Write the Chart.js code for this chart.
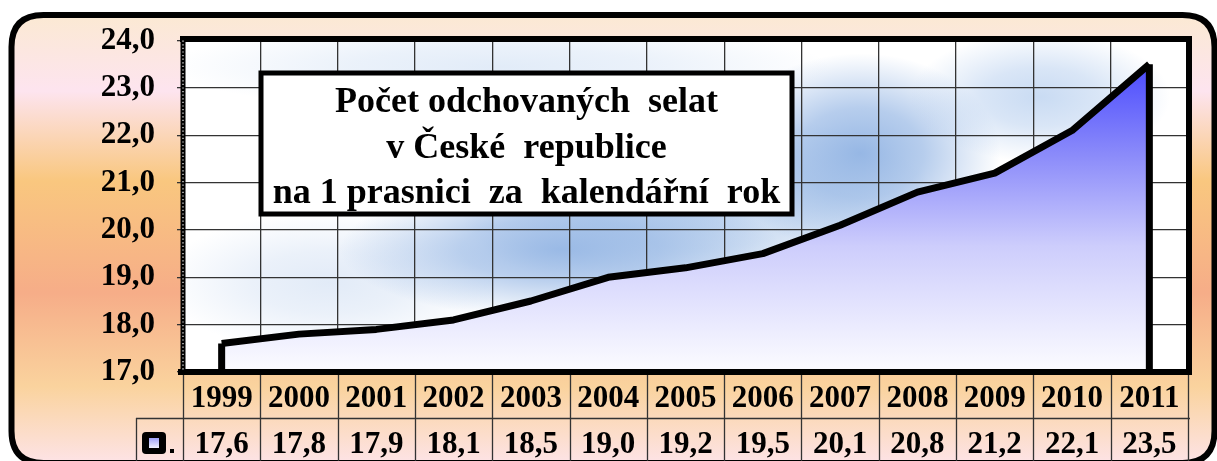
<!DOCTYPE html>
<html>
<head>
<meta charset="utf-8">
<script src="https://cdn.jsdelivr.net/npm/chart.js"></script>
<style>
  html, body { margin: 0; padding: 0; background: #fff; }
  #wrap { width: 1217px; height: 461px; }
</style>
</head>
<body>
<div id="wrap"><canvas id="chart" width="1217" height="461"></canvas></div>
<script>
const years = ['1999', '2000', '2001', '2002', '2003', '2004', '2005', '2006', '2007', '2008', '2009', '2010', '2011'];
const piglets = [17.6, 17.8, 17.9, 18.1, 18.5, 19.0, 19.2, 19.5, 20.1, 20.8, 21.2, 22.1, 23.5];
const yMin = 17;
const yMax = 24;
const yStep = 1;
const titleLines = ['Počet odchovaných  selat', 'v České  republice', 'na 1 prasnici  za  kalendářní  rok'];

const FONT = "'Liberation Serif', 'Times New Roman', serif";

function czNum(v) {
    return Number(v).toFixed(1).replace('.', ',');
}

function roundRectPath(ctx, x, y, w, h, r) {
    ctx.beginPath();
    ctx.moveTo(x + r, y);
    ctx.lineTo(x + w - r, y);
    ctx.quadraticCurveTo(x + w, y, x + w, y + r);
    ctx.lineTo(x + w, y + h - r);
    ctx.quadraticCurveTo(x + w, y + h, x + w - r, y + h);
    ctx.lineTo(x + r, y + h);
    ctx.quadraticCurveTo(x, y + h, x, y + h - r);
    ctx.lineTo(x, y + r);
    ctx.quadraticCurveTo(x, y, x + r, y);
    ctx.closePath();
}

// panel background, white plot area with the blue clouds
const backdrop = {
    id: 'backdrop',
    beforeDraw(chart) {
        const { ctx, chartArea: a } = chart;
        ctx.save();
        const g = ctx.createLinearGradient(0, 15, 0, 463);
        g.addColorStop(0.0, '#fbe9d3');
        g.addColorStop(0.17, '#fde4ef');
        g.addColorStop(0.37, '#f9c77f');
        g.addColorStop(0.62, '#f6ad88');
        g.addColorStop(0.83, '#fad39e');
        g.addColorStop(1.0, '#fde3e6');
        roundRectPath(ctx, 11.5, 15, 1203, 448, 32);
        ctx.fillStyle = g;
        ctx.fill();
        ctx.lineWidth = 6;
        ctx.strokeStyle = '#000';
        ctx.stroke();

        ctx.fillStyle = '#fff';
        ctx.fillRect(a.left, a.top, a.width, a.height);
        ctx.beginPath();
        ctx.rect(a.left, a.top, a.width, a.height);
        ctx.clip();
        // [centre x, centre y as part of the plot, radius x, radius y, rgb, alpha]
        const clouds = [
            [0.315, 0.08, 330, 45, '190,212,240', 0.45],
            [0.146, 0.73, 170, 70, '190,210,238', 0.45],
            [0.514, 0.5, 240, 95, '150,184,228', 0.6],
            [0.375, 0.63, 220, 70, '140,176,226', 0.85],
            [0.674, 0.34, 140, 100, '140,176,226', 0.9],
            [0.853, 0.17, 130, 65, '165,195,235', 0.6]
        ];
        clouds.forEach(([fx, fy, rx, ry, rgb, al]) => {
            const cx = a.left + fx * a.width;
            const cy = a.top + fy * a.height;
            ctx.save();
            ctx.translate(cx, cy);
            ctx.scale(rx / ry, 1);
            const rg = ctx.createRadialGradient(0, 0, 0, 0, 0, ry);
            rg.addColorStop(0, `rgba(${rgb},${al})`);
            rg.addColorStop(0.45, `rgba(${rgb},${al * 0.7})`);
            rg.addColorStop(1, `rgba(${rgb},0)`);
            ctx.fillStyle = rg;
            ctx.beginPath();
            ctx.arc(0, 0, ry, 0, Math.PI * 2);
            ctx.fill();
            ctx.restore();
        });
        ctx.restore();
    }
};

// end drops of the area, plot frame and title box
const frame = {
    id: 'frame',
    afterDatasetsDraw(chart) {
        const { ctx, chartArea: a } = chart;
        const pts = chart.getDatasetMeta(0).data;
        const first = pts[0];
        const last = pts[pts.length - 1];
        ctx.save();
        ctx.strokeStyle = '#000';
        ctx.lineWidth = 7;
        ctx.lineCap = 'butt';
        ctx.beginPath();
        ctx.moveTo(first.x, a.bottom);
        ctx.lineTo(first.x, first.y);
        ctx.moveTo(last.x, last.y);
        ctx.lineTo(last.x, a.bottom);
        ctx.stroke();

        ctx.lineWidth = 6;
        ctx.lineCap = 'square';
        ctx.beginPath();
        ctx.moveTo(a.left, a.top - 1.5);
        ctx.lineTo(a.right + 1, a.top - 1.5);
        ctx.lineTo(a.right + 1, a.bottom);
        ctx.moveTo(a.left - 2, a.bottom);
        ctx.lineTo(a.right + 1, a.bottom);
        ctx.stroke();

        ctx.lineCap = 'butt';
        ctx.lineWidth = 5;
        ctx.beginPath();
        ctx.moveTo(a.left, a.top - 4);
        ctx.lineTo(a.left, a.bottom + 2);
        ctx.stroke();
        ctx.strokeStyle = '#fff';
        ctx.lineWidth = 1.2;
        ctx.setLineDash([1.2, 2.4]);
        ctx.beginPath();
        ctx.moveTo(a.left, a.top);
        ctx.lineTo(a.left, a.bottom - 2);
        ctx.stroke();
        ctx.setLineDash([]);

        // title box
        const bx = 261, by = 73, bw = 531, bh = 141;
        ctx.fillStyle = '#fff';
        ctx.fillRect(bx, by, bw, bh);
        ctx.strokeStyle = '#000';
        ctx.lineWidth = 5;
        ctx.strokeRect(bx, by, bw, bh);
        ctx.fillStyle = '#000';
        ctx.font = 'bold 36px ' + FONT;
        ctx.textAlign = 'center';
        ctx.textBaseline = 'middle';
        titleLines.forEach((t, i) => {
            ctx.fillText(t, bx + bw / 2, by + 30 + i * 45.5);
        });
        ctx.restore();
    }
};

// data table under the plot
const dataTable = {
    id: 'dataTable',
    afterDraw(chart) {
        const { ctx, chartArea: a } = chart;
        const xs = chart.scales.x;
        const half = (xs.getPixelForValue(1) - xs.getPixelForValue(0)) / 2;
        const top = a.bottom + 3;
        const mid = a.bottom + 46;
        const bottom = chart.height;
        const keyLeft = a.left - 47;
        ctx.save();
        ctx.strokeStyle = '#333';
        ctx.lineWidth = 1.3;
        ctx.beginPath();
        for (let i = 0; i <= years.length; i++) {
            const x = Math.round(xs.getPixelForValue(i) - half) + 0.5;
            ctx.moveTo(x, top);
            ctx.lineTo(x, bottom);
        }
        ctx.moveTo(keyLeft + 0.5, mid);
        ctx.lineTo(keyLeft + 0.5, bottom);
        ctx.moveTo(keyLeft, mid + 0.5);
        ctx.lineTo(a.right + 2, mid + 0.5);
        ctx.stroke();

        ctx.fillStyle = '#000';
        ctx.font = 'bold 31px ' + FONT;
        ctx.textAlign = 'center';
        ctx.textBaseline = 'middle';
        years.forEach((yr, i) => {
            ctx.fillText(yr, xs.getPixelForValue(i), top + 24);
        });
        piglets.forEach((v, i) => {
            ctx.fillText(czNum(v), xs.getPixelForValue(i), mid + 27);
        });

        // legend key
        roundRectPath(ctx, keyLeft + 6, mid + 14, 24, 22, 4);
        ctx.fillStyle = '#000';
        ctx.fill();
        const kg = ctx.createLinearGradient(0, mid + 20, 0, mid + 30);
        kg.addColorStop(0, '#9fa0f8');
        kg.addColorStop(1, '#f0f0ff');
        ctx.fillStyle = kg;
        ctx.fillRect(keyLeft + 13, mid + 20, 10, 10);
        ctx.fillStyle = '#000';
        ctx.fillRect(keyLeft + 34, mid + 31, 4, 4);
        ctx.restore();
    }
};

new Chart(document.getElementById('chart'), {
    type: 'line',
    data: {
        labels: years,
        datasets: [{
            data: piglets,
            borderColor: '#000',
            borderWidth: 7,
            borderJoinStyle: 'round',
            pointRadius: 0,
            tension: 0,
            fill: 'start',
            backgroundColor: (c) => {
                const a = c.chart.chartArea;
                if (!a) return 'rgba(120,120,255,0.5)';
                const g = c.chart.ctx.createLinearGradient(0, a.top, 0, a.bottom);
                g.addColorStop(0, 'rgb(58,58,255)');
                g.addColorStop(0.35, 'rgb(140,140,250)');
                g.addColorStop(0.62, 'rgb(205,205,252)');
                g.addColorStop(1, 'rgb(252,252,255)');
                return g;
            }
        }]
    },
    options: {
        responsive: false,
        animation: false,
        layout: { padding: { left: 0, right: 29, top: 34, bottom: 89 } },
        plugins: {
            legend: { display: false },
            title: { display: false },
            tooltip: { enabled: false }
        },
        scales: {
            x: {
                offset: true,
                grid: { offset: true, color: '#333', lineWidth: 1.3, drawTicks: false },
                border: { display: false },
                ticks: { display: false }
            },
            y: {
                min: yMin,
                max: yMax,
                afterFit(scale) { scale.width = 183; },
                grid: { color: '#333', lineWidth: 1.3, tickLength: 6 },
                border: { display: false },
                ticks: {
                    stepSize: yStep,
                    padding: 22,
                    color: '#000',
                    font: { family: FONT, size: 31, weight: 'bold' },
                    callback: (v) => czNum(v)
                }
            }
        }
    },
    plugins: [backdrop, frame, dataTable]
});
</script>
</body>
</html>
